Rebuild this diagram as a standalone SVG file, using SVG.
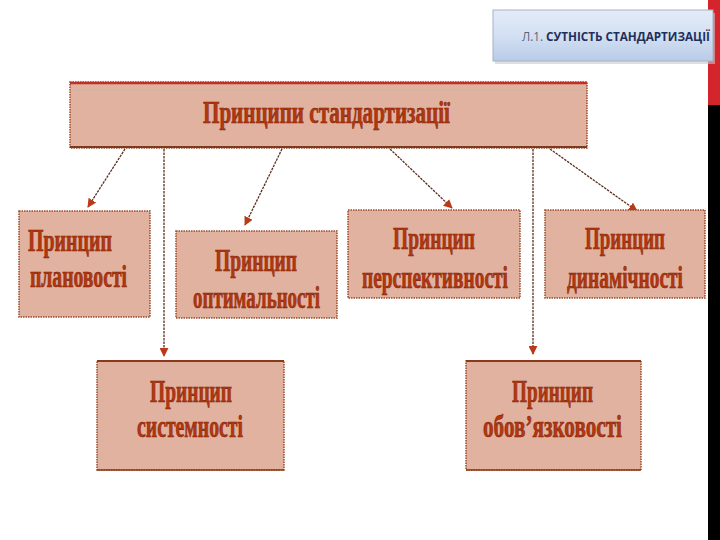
<svg xmlns="http://www.w3.org/2000/svg" width="720" height="540" viewBox="0 0 720 540">
  <defs>
    <linearGradient id="hdr" x1="0" y1="0" x2="0" y2="1">
      <stop offset="0" stop-color="#e3ebf8"/>
      <stop offset="0.5" stop-color="#d3e0f3"/>
      <stop offset="1" stop-color="#b9cbe6"/>
    </linearGradient>
    <marker id="arr" viewBox="0 0 10 10" refX="9" refY="5" markerWidth="9" markerHeight="9" markerUnits="userSpaceOnUse" orient="auto">
      <path d="M0,0 L10,5 L0,10 Z" fill="#b83a16"/>
    </marker>
    <style>
      .box { fill: #e2b2a0; stroke: #9a4a2a; stroke-width: 1.5; stroke-dasharray: 1.5 1; }
      .t { font-family: "Liberation Serif", "Times New Roman", serif; font-weight: bold; font-size: 31px; fill: #b3370f; stroke: #7a2208; stroke-width: 0.6; }
      .conn { fill: none; stroke: #5a2e1c; stroke-width: 1.3; stroke-dasharray: 2.5 1; }
      .hdrtext { font-family: "Open Sans", "Liberation Sans", sans-serif; font-weight: bold; font-size: 12.5px; fill: #1f2f5a; }
    </style>
  </defs>

  <rect x="0" y="0" width="720" height="540" fill="#ffffff"/>

  <!-- right edge bars -->
  <rect x="708" y="0" width="12" height="105" fill="#d3252b"/>
  <rect x="708" y="105" width="12" height="435" fill="#000000"/>

  <!-- header label -->
  <g id="header">
    <rect x="495" y="13" width="220" height="51" fill="#c8c8c8" opacity="0.6"/>
    <rect x="493" y="10" width="220" height="51" fill="url(#hdr)" stroke="#a4b2c8" stroke-width="1"/>
    <text x="522" y="41" class="hdrtext" textLength="188" lengthAdjust="spacingAndGlyphs"><tspan fill="#55607a" font-weight="normal">Л.1. </tspan>СУТНІСТЬ СТАНДАРТИЗАЦІЇ</text>
  </g>

  <!-- main node -->
  <g id="main">
    <rect x="70" y="82" width="517" height="66" class="box"/>
    <line x1="70" y1="83" x2="587" y2="83" stroke="#c0302a" stroke-width="2.5"/>
    <line x1="74" y1="90" x2="583" y2="90" stroke="#c4b4a4" stroke-width="1.2"/>
    <line x1="70" y1="147" x2="587" y2="147" stroke="#7a3a20" stroke-width="2"/>
    <text transform="translate(203 123) scale(0.63 1)" class="t" font-size="30" textLength="392" lengthAdjust="spacingAndGlyphs">Принципи стандартизації</text>
  </g>

  <!-- connectors -->
  <g id="connectors">
    <line class="conn" x1="125" y1="149" x2="88" y2="207" marker-end="url(#arr)"/>
    <line class="conn" x1="282" y1="149" x2="245" y2="225" marker-end="url(#arr)"/>
    <line class="conn" x1="164" y1="149" x2="164" y2="356" marker-end="url(#arr)"/>
    <line class="conn" x1="390" y1="149" x2="452" y2="208" marker-end="url(#arr)"/>
    <line class="conn" x1="533" y1="149" x2="533" y2="354" marker-end="url(#arr)"/>
    <line class="conn" x1="550" y1="149" x2="637" y2="211" marker-end="url(#arr)"/>
  </g>

  <g id="planovosti">
    <rect x="19" y="211" width="131" height="106" class="box"/>
    <text transform="translate(28 251) scale(0.63 1)" class="t" textLength="133.3" lengthAdjust="spacingAndGlyphs">Принцип</text>
    <text transform="translate(30 287) scale(0.63 1)" class="t" textLength="154" lengthAdjust="spacingAndGlyphs">плановості</text>
  </g>

  <g id="optymalnosti">
    <rect x="176" y="231" width="161" height="87" class="box"/>
    <text transform="translate(215 271) scale(0.63 1)" class="t" textLength="130.2" lengthAdjust="spacingAndGlyphs">Принцип</text>
    <text transform="translate(193 308) scale(0.63 1)" class="t" textLength="201.6" lengthAdjust="spacingAndGlyphs">оптимальності</text>
  </g>

  <g id="perspektyvnosti">
    <rect x="348" y="210" width="172" height="88" class="box"/>
    <text transform="translate(393 249) scale(0.63 1)" class="t" textLength="130.2" lengthAdjust="spacingAndGlyphs">Принцип</text>
    <text transform="translate(362 288) scale(0.63 1)" class="t" textLength="231.7" lengthAdjust="spacingAndGlyphs">перспективності</text>
  </g>

  <g id="dynamichnosti">
    <rect x="545" y="210" width="160" height="88" class="box"/>
    <text transform="translate(585 249) scale(0.63 1)" class="t" textLength="127" lengthAdjust="spacingAndGlyphs">Принцип</text>
    <text transform="translate(567 288) scale(0.63 1)" class="t" textLength="184.1" lengthAdjust="spacingAndGlyphs">динамічності</text>
  </g>

  <g id="systemnosti">
    <rect x="97" y="361" width="187" height="109" class="box"/>
    <line x1="97" y1="361" x2="284" y2="361" stroke="#8a3a1a" stroke-width="1.8"/>
    <line x1="97" y1="470" x2="284" y2="470" stroke="#8a3a1a" stroke-width="1.5"/>
    <text transform="translate(150 402) scale(0.63 1)" class="t" textLength="130.2" lengthAdjust="spacingAndGlyphs">Принцип</text>
    <text transform="translate(137 437) scale(0.63 1)" class="t" textLength="168.3" lengthAdjust="spacingAndGlyphs">системності</text>
  </g>

  <g id="oboviazkovosti">
    <rect x="466" y="361" width="175" height="109" class="box"/>
    <line x1="466" y1="361" x2="641" y2="361" stroke="#8a3a1a" stroke-width="1.8"/>
    <line x1="466" y1="470" x2="641" y2="470" stroke="#8a3a1a" stroke-width="1.5"/>
    <text transform="translate(512 402) scale(0.63 1)" class="t" textLength="128.6" lengthAdjust="spacingAndGlyphs">Принцип</text>
    <text transform="translate(483 437) scale(0.63 1)" class="t" textLength="220.6" lengthAdjust="spacingAndGlyphs">обов’язковості</text>
  </g>
</svg>
